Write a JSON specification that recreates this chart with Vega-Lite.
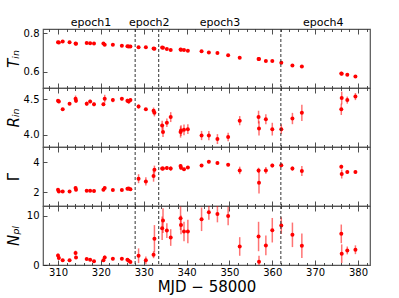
{
  "$schema": "https://vega.github.io/schema/vega-lite/v6.json",
  "autosize": {"type": "pad"},
  "padding": {"left": 5, "top": 16, "right": 5, "bottom": 2},
  "bounds": "flush",
  "spacing": 0,
  "datasets": {
    "obs": [
      {"mjd": 310.0, "T": 0.753, "R": 4.48, "Re": 0.025, "G": 2.16, "Ge": 0.10, "N": 1.96, "Ne": 0.4},
      {"mjd": 310.2, "T": 0.752, "R": 4.47, "Re": 0.025, "G": 2.04, "Ge": 0.08, "N": 1.42, "Ne": 0.3},
      {"mjd": 311.1, "T": 0.757, "R": 4.36, "Re": 0.02, "G": 2.04, "Ge": 0.08, "N": 0.95, "Ne": 0.2},
      {"mjd": 312.7, "T": 0.753, "R": 4.44, "Re": 0.02, "G": 2.04, "Ge": 0.08, "N": 0.95, "Ne": 0.2},
      {"mjd": 314.1, "T": 0.747, "R": 4.51, "Re": 0.045, "G": 2.27, "Ge": 0.10, "N": 2.43, "Ne": 0.5},
      {"mjd": 314.2, "T": 0.746, "R": 4.48, "Re": 0.03, "G": 2.16, "Ge": 0.10, "N": 1.55, "Ne": 0.3},
      {"mjd": 316.7, "T": 0.750, "R": 4.44, "Re": 0.03, "G": 2.09, "Ge": 0.08, "N": 1.22, "Ne": 0.2},
      {"mjd": 317.5, "T": 0.748, "R": 4.47, "Re": 0.025, "G": 2.09, "Ge": 0.08, "N": 1.08, "Ne": 0.2},
      {"mjd": 318.4, "T": 0.747, "R": 4.43, "Re": 0.025, "G": 2.07, "Ge": 0.08, "N": 0.74, "Ne": 0.2},
      {"mjd": 320.6, "T": 0.747, "R": 4.43, "Re": 0.025, "G": 2.16, "Ge": 0.10, "N": 0.95, "Ne": 0.3},
      {"mjd": 320.9, "T": 0.741, "R": 4.51, "Re": 0.055, "G": 2.27, "Ge": 0.10, "N": 1.55, "Ne": 0.4},
      {"mjd": 322.8, "T": 0.740, "R": 4.49, "Re": 0.03, "G": 2.13, "Ge": 0.08, "N": 1.28, "Ne": 0.3},
      {"mjd": 324.9, "T": 0.735, "R": 4.51, "Re": 0.025, "G": 2.13, "Ge": 0.08, "N": 1.28, "Ne": 0.3},
      {"mjd": 326.2, "T": 0.733, "R": 4.48, "Re": 0.03, "G": 2.22, "Ge": 0.08, "N": 1.08, "Ne": 0.3},
      {"mjd": 326.5, "T": 0.732, "R": 4.47, "Re": 0.03, "G": 2.24, "Ge": 0.08, "N": 0.88, "Ne": 0.3},
      {"mjd": 326.9, "T": 0.731, "R": 4.49, "Re": 0.025, "G": 2.18, "Ge": 0.08, "N": 0.61, "Ne": 0.2},
      {"mjd": 328.8, "T": 0.728, "R": 4.40, "Re": 0.03, "G": 2.89, "Ge": 0.30, "N": 1.89, "Ne": 1.5},
      {"mjd": 330.5, "T": 0.728, "R": 4.36, "Re": 0.02, "G": 2.71, "Ge": 0.27, "N": 0.95, "Ne": 0.8},
      {"mjd": 332.3, "T": 0.721, "R": 4.34, "Re": 0.045, "G": 3.07, "Ge": 0.38, "N": 2.09, "Ne": 0.7},
      {"mjd": 332.5, "T": 0.720, "R": 4.31, "Re": 0.05, "G": 3.49, "Ge": 0.27, "N": 5.34, "Ne": 2.8},
      {"mjd": 334.3, "T": 0.726, "R": 4.13, "Re": 0.07, "G": 3.56, "Ge": 0.13, "N": 7.5, "Ne": 2.4},
      {"mjd": 334.5, "T": 0.725, "R": 4.04, "Re": 0.07, "G": 3.56, "Ge": 0.13, "N": 9.05, "Ne": 2.5},
      {"mjd": 335.4, "T": 0.719, "R": 4.17, "Re": 0.06, "G": 3.60, "Ge": 0.13, "N": 7.03, "Ne": 1.5},
      {"mjd": 336.3, "T": 0.714, "R": 4.25, "Re": 0.07, "G": 3.56, "Ge": 0.15, "N": 5.6, "Ne": 1.7},
      {"mjd": 338.6, "T": 0.716, "R": 4.04, "Re": 0.08, "G": 3.73, "Ge": 0.13, "N": 9.53, "Ne": 2.4},
      {"mjd": 338.7, "T": 0.715, "R": 4.06, "Re": 0.075, "G": 3.62, "Ge": 0.13, "N": 8.18, "Ne": 1.9},
      {"mjd": 339.4, "T": 0.714, "R": 4.07, "Re": 0.075, "G": 3.51, "Ge": 0.10, "N": 6.82, "Ne": 2.0},
      {"mjd": 340.3, "T": 0.710, "R": 4.08, "Re": 0.07, "G": 3.64, "Ge": 0.10, "N": 6.82, "Ne": 2.4},
      {"mjd": 343.5, "T": 0.707, "R": 3.99, "Re": 0.065, "G": 3.76, "Ge": 0.10, "N": 9.32, "Ne": 2.4},
      {"mjd": 345.2, "T": 0.700, "R": 3.99, "Re": 0.065, "G": 4.02, "Ge": 0.10, "N": 10.74, "Ne": 1.5},
      {"mjd": 347.2, "T": 0.698, "R": 3.94, "Re": 0.07, "G": 3.93, "Ge": 0.10, "N": 10.4, "Ne": 1.7},
      {"mjd": 349.7, "T": 0.686, "R": 3.97, "Re": 0.06, "G": 3.82, "Ge": 0.10, "N": 10.0, "Ne": 1.9},
      {"mjd": 352.4, "T": 0.673, "R": 4.20, "Re": 0.065, "G": 3.44, "Ge": 0.25, "N": 3.78, "Ne": 1.9},
      {"mjd": 356.8, "T": 0.667, "R": 4.25, "Re": 0.09, "G": 3.44, "Ge": 0.18, "N": 5.81, "Ne": 3.0},
      {"mjd": 356.9, "T": 0.667, "R": 4.09, "Re": 0.10, "G": 2.62, "Ge": 0.72, "N": 0.68, "Ne": 1.2},
      {"mjd": 358.5, "T": 0.657, "R": 4.22, "Re": 0.07, "G": 3.44, "Ge": 0.22, "N": 3.99, "Ne": 2.0},
      {"mjd": 360.0, "T": 0.657, "R": 4.08, "Re": 0.09, "G": 3.76, "Ge": 0.13, "N": 7.09, "Ne": 2.5},
      {"mjd": 362.1, "T": 0.647, "R": 4.08, "Re": 0.07, "G": 3.78, "Ge": 0.13, "N": 8.04, "Ne": 1.7},
      {"mjd": 364.7, "T": 0.633, "R": 4.23, "Re": 0.08, "G": 3.56, "Ge": 0.15, "N": 6.15, "Ne": 2.5},
      {"mjd": 366.9, "T": 0.628, "R": 4.31, "Re": 0.115, "G": 3.40, "Ge": 0.33, "N": 3.92, "Ne": 2.5},
      {"mjd": 376.1, "T": 0.592, "R": 4.36, "Re": 0.08, "G": 3.69, "Ge": 0.13, "N": 6.35, "Ne": 1.9},
      {"mjd": 376.2, "T": 0.591, "R": 4.52, "Re": 0.09, "G": 3.20, "Ge": 0.30, "N": 2.30, "Ne": 1.9},
      {"mjd": 377.5, "T": 0.586, "R": 4.49, "Re": 0.05, "G": 3.33, "Ge": 0.10, "N": 2.97, "Ne": 0.8},
      {"mjd": 379.4, "T": 0.576, "R": 4.54, "Re": 0.05, "G": 3.33, "Ge": 0.10, "N": 3.11, "Ne": 0.9}
    ],
    "bounds": [{"b": 328.0}, {"b": 333.5}, {"b": 362.0}],
    "epochs": [
      {"label": "epoch1", "x": 317.7, "y": 0.838},
      {"label": "epoch2", "x": 331.3, "y": 0.838},
      {"label": "epoch3", "x": 347.8, "y": 0.838},
      {"label": "epoch4", "x": 371.9, "y": 0.838}
    ]
  },
  "vconcat": [
    {
      "width": 327, "height": 59,
      "resolve": {"axis": {"x": "independent"}},
      "layer": [
        {
          "data": {"name": "obs"},
          "mark": {"type": "point", "filled": true, "color": "#ff0000", "opacity": 1, "size": 16},
          "encoding": {
            "x": {"field": "mjd", "type": "quantitative", "scale": {"domain": [306.5, 382.8], "nice": false, "zero": false},
                  "axis": {"orient": "bottom", "labels": false, "title": null, "values": [308,310,312,314,316,318,320,322,324,326,328,330,332,334,336,338,340,342,344,346,348,350,352,354,356,358,360,362,364,366,368,370,372,374,376,378,380,382],
                           "tickSize": {"condition": {"test": "datum.value % 10 === 0", "value": -5}, "value": -2.5}}},
            "y": {"field": "T", "type": "quantitative", "scale": {"domain": [0.517, 0.822], "nice": false, "zero": false},
                  "axis": {"values": [0.6, 0.8], "format": ".1f", "title": "Tᵢₙ", "titleFontStyle": "italic"}}
          }
        },
        {
          "data": {"name": "bounds"},
          "mark": {"type": "rule", "color": "#333333", "strokeDash": [3, 2], "strokeWidth": 1},
          "encoding": {
            "x": {"field": "b", "type": "quantitative", "scale": {"domain": [306.5, 382.8], "nice": false, "zero": false},
                  "axis": {"orient": "top", "labels": false, "title": null, "values": [308,310,312,314,316,318,320,322,324,326,328,330,332,334,336,338,340,342,344,346,348,350,352,354,356,358,360,362,364,366,368,370,372,374,376,378,380,382],
                           "tickSize": {"condition": {"test": "datum.value % 10 === 0", "value": -5}, "value": -2.5}}}
          }
        },
        {
          "data": {"name": "epochs"},
          "mark": {"type": "text", "fontSize": 11, "font": "DejaVu Sans", "baseline": "alphabetic", "align": "center", "color": "#000000"},
          "encoding": {
            "x": {"field": "x", "type": "quantitative", "scale": {"domain": [306.5, 382.8], "nice": false, "zero": false}, "axis": null},
            "y": {"field": "y", "type": "quantitative", "scale": {"domain": [0.517, 0.822], "nice": false, "zero": false},
                  "axis": {"values": [0.6, 0.8], "format": ".1f", "title": "Tᵢₙ", "titleFontStyle": "italic"}},
            "text": {"field": "label"}
          }
        }
      ]
    },
    {
      "width": 327, "height": 59,
      "resolve": {"axis": {"x": "independent"}},
      "layer": [
        {
          "data": {"name": "obs"},
          "mark": {"type": "errorbar", "color": "#ff0000", "opacity": 0.55, "thickness": 1.5},
          "encoding": {
            "x": {"field": "mjd", "type": "quantitative", "scale": {"domain": [306.5, 382.8], "nice": false, "zero": false}, "axis": null},
            "y": {"field": "R", "type": "quantitative", "scale": {"domain": [3.828, 4.661], "nice": false, "zero": false, "clamp": true},
                  "axis": {"values": [4.0, 4.5], "format": ".1f", "title": "Rᵢₙ", "titleFontStyle": "italic"}},
            "yError": {"field": "Re"}
          }
        },
        {
          "data": {"name": "obs"},
          "mark": {"type": "point", "filled": true, "color": "#ff0000", "opacity": 1, "size": 16},
          "encoding": {
            "x": {"field": "mjd", "type": "quantitative", "scale": {"domain": [306.5, 382.8], "nice": false, "zero": false},
                  "axis": {"orient": "bottom", "labels": false, "title": null, "values": [308,310,312,314,316,318,320,322,324,326,328,330,332,334,336,338,340,342,344,346,348,350,352,354,356,358,360,362,364,366,368,370,372,374,376,378,380,382],
                           "tickSize": {"condition": {"test": "datum.value % 10 === 0", "value": -5}, "value": -2.5}}},
            "y": {"field": "R", "type": "quantitative", "scale": {"domain": [3.828, 4.661], "nice": false, "zero": false, "clamp": true},
                  "axis": {"values": [4.0, 4.5], "format": ".1f", "title": "Rᵢₙ", "titleFontStyle": "italic"}}
          }
        },
        {
          "data": {"name": "bounds"},
          "mark": {"type": "rule", "color": "#333333", "strokeDash": [3, 2], "strokeWidth": 1},
          "encoding": {
            "x": {"field": "b", "type": "quantitative", "scale": {"domain": [306.5, 382.8], "nice": false, "zero": false},
                  "axis": {"orient": "top", "labels": false, "title": null, "values": [308,310,312,314,316,318,320,322,324,326,328,330,332,334,336,338,340,342,344,346,348,350,352,354,356,358,360,362,364,366,368,370,372,374,376,378,380,382],
                           "tickSize": {"condition": {"test": "datum.value % 10 === 0", "value": -5}, "value": -2.5}}}
          }
        }
      ]
    },
    {
      "width": 327, "height": 59,
      "resolve": {"axis": {"x": "independent"}},
      "layer": [
        {
          "data": {"name": "obs"},
          "mark": {"type": "errorbar", "color": "#ff0000", "opacity": 0.55, "thickness": 1.5},
          "encoding": {
            "x": {"field": "mjd", "type": "quantitative", "scale": {"domain": [306.5, 382.8], "nice": false, "zero": false}, "axis": null},
            "y": {"field": "G", "type": "quantitative", "scale": {"domain": [1.07, 5.0], "nice": false, "zero": false, "clamp": true},
                  "axis": {"values": [2, 4], "format": "d", "title": "Γ", "titleFontStyle": "normal"}},
            "yError": {"field": "Ge"}
          }
        },
        {
          "data": {"name": "obs"},
          "mark": {"type": "point", "filled": true, "color": "#ff0000", "opacity": 1, "size": 16},
          "encoding": {
            "x": {"field": "mjd", "type": "quantitative", "scale": {"domain": [306.5, 382.8], "nice": false, "zero": false},
                  "axis": {"orient": "bottom", "labels": false, "title": null, "values": [308,310,312,314,316,318,320,322,324,326,328,330,332,334,336,338,340,342,344,346,348,350,352,354,356,358,360,362,364,366,368,370,372,374,376,378,380,382],
                           "tickSize": {"condition": {"test": "datum.value % 10 === 0", "value": -5}, "value": -2.5}}},
            "y": {"field": "G", "type": "quantitative", "scale": {"domain": [1.07, 5.0], "nice": false, "zero": false, "clamp": true},
                  "axis": {"values": [2, 4], "format": "d", "title": "Γ", "titleFontStyle": "normal"}}
          }
        },
        {
          "data": {"name": "bounds"},
          "mark": {"type": "rule", "color": "#333333", "strokeDash": [3, 2], "strokeWidth": 1},
          "encoding": {
            "x": {"field": "b", "type": "quantitative", "scale": {"domain": [306.5, 382.8], "nice": false, "zero": false},
                  "axis": {"orient": "top", "labels": false, "title": null, "values": [308,310,312,314,316,318,320,322,324,326,328,330,332,334,336,338,340,342,344,346,348,350,352,354,356,358,360,362,364,366,368,370,372,374,376,378,380,382],
                           "tickSize": {"condition": {"test": "datum.value % 10 === 0", "value": -5}, "value": -2.5}}}
          }
        }
      ]
    },
    {
      "width": 327, "height": 59,
      "resolve": {"axis": {"x": "independent"}},
      "layer": [
        {
          "data": {"name": "obs"},
          "mark": {"type": "errorbar", "color": "#ff0000", "opacity": 0.55, "thickness": 1.5},
          "encoding": {
            "x": {"field": "mjd", "type": "quantitative", "scale": {"domain": [306.5, 382.8], "nice": false, "zero": false}, "axis": null},
            "y": {"field": "N", "type": "quantitative", "scale": {"domain": [0, 12.03], "nice": false, "zero": false, "clamp": true},
                  "axis": {"values": [0, 10], "format": "d", "title": "Nₚₗ", "titleFontStyle": "italic"}},
            "yError": {"field": "Ne"}
          }
        },
        {
          "data": {"name": "obs"},
          "mark": {"type": "point", "filled": true, "color": "#ff0000", "opacity": 1, "size": 16},
          "encoding": {
            "x": {"field": "mjd", "type": "quantitative", "scale": {"domain": [306.5, 382.8], "nice": false, "zero": false},
                  "axis": {"orient": "bottom", "title": "MJD − 58000", "titleFontSize": 15, "titlePadding": 0, "labelPadding": 7, "labelOverlap": false, "labelFlush": false,
                           "labelExpr": "datum.value % 10 === 0 ? datum.label : ''",
                           "values": [308,310,312,314,316,318,320,322,324,326,328,330,332,334,336,338,340,342,344,346,348,350,352,354,356,358,360,362,364,366,368,370,372,374,376,378,380,382],
                           "tickSize": {"condition": {"test": "datum.value % 10 === 0", "value": -5}, "value": -2.5}}},
            "y": {"field": "N", "type": "quantitative", "scale": {"domain": [0, 12.03], "nice": false, "zero": false, "clamp": true},
                  "axis": {"values": [0, 10], "format": "d", "title": "Nₚₗ", "titleFontStyle": "italic"}}
          }
        },
        {
          "data": {"name": "bounds"},
          "mark": {"type": "rule", "color": "#333333", "strokeDash": [3, 2], "strokeWidth": 1},
          "encoding": {
            "x": {"field": "b", "type": "quantitative", "scale": {"domain": [306.5, 382.8], "nice": false, "zero": false},
                  "axis": {"orient": "top", "labels": false, "title": null, "values": [308,310,312,314,316,318,320,322,324,326,328,330,332,334,336,338,340,342,344,346,348,350,352,354,356,358,360,362,364,366,368,370,372,374,376,378,380,382],
                           "tickSize": {"condition": {"test": "datum.value % 10 === 0", "value": -5}, "value": -2.5}}}
          }
        }
      ]
    }
  ],
  "config": {
    "font": "DejaVu Sans",
    "view": {"stroke": "#555555", "strokeWidth": 1.2},
    "axis": {"domain": false, "grid": false, "labelFont": "DejaVu Sans", "labelFontSize": 10, "labelColor": "#000000", "tickColor": "#222222", "tickWidth": 0.8,
             "titleFont": "DejaVu Sans", "titleFontWeight": "normal", "titleColor": "#000000"},
    "axisY": {"tickSize": -4, "labelPadding": 8, "titleFontSize": 15, "titleX": -25, "titleY": 29.5, "titleAngle": 270, "titleBaseline": "alphabetic", "titleAlign": "center"}
  }
}
